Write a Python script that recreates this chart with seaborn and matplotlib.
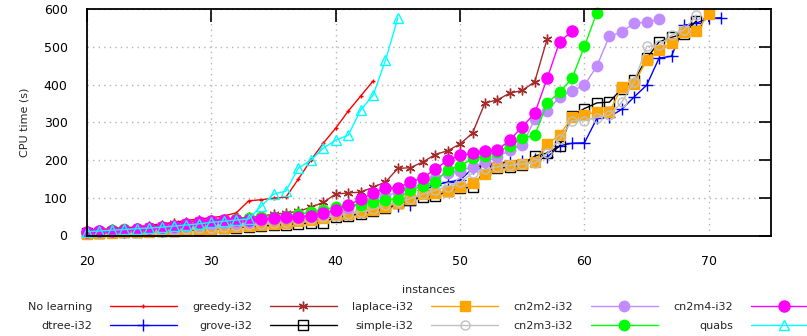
import numpy as np
import matplotlib
matplotlib.use('Agg')
import matplotlib.pyplot as plt
import seaborn as sns

# cactus data: sorted CPU times, first plotted instance is #20
FIRST_INSTANCE = 20

no_learning = [14, 16, 18, 20, 23, 27, 31, 35, 40, 44, 47, 52, 60, 92, 95, 99,
               102, 150, 200, 245, 285, 330, 370, 410]
dtree = [7, 8, 9, 10, 11, 12, 13, 14, 16, 18, 20, 22, 24, 27, 30, 33, 36, 40,
         44, 48, 52, 57, 62, 68, 76, 79, 82, 120, 133, 142, 147, 178, 187, 192,
         196, 199, 203, 208, 238, 245, 246, 311, 315, 335, 368, 399, 471, 476,
         558, 564, 577, 578]
greedy = [12, 14, 16, 18, 20, 24, 28, 33, 36, 40, 42, 44, 46, 48, 52, 56, 60,
          64, 75, 88, 110, 113, 115, 128, 142, 178, 180, 195, 215, 225, 243,
          272, 352, 360, 378, 385, 408, 522]
grove = [6, 7, 8, 9, 10, 11, 12, 13, 14, 15, 17, 19, 21, 23, 25, 27, 29, 31, 33,
         34, 50, 52, 58, 64, 73, 85, 94, 102, 104, 118, 126, 128, 173, 178, 182,
         186, 211, 219, 237, 318, 337, 352, 354, 390, 412, 470, 514, 526, 536,
         570]
laplace = [5, 6, 7, 8, 9, 10, 11, 13, 15, 16, 18, 20, 22, 25, 28, 31, 34, 38,
           42, 47, 54, 56, 62, 67, 76, 86, 97, 109, 112, 119, 129, 139, 162, 181,
           187, 191, 195, 243, 266, 315, 320, 328, 328, 393, 403, 465, 493, 511,
           539, 543, 587]
simple = [8, 9, 10, 11, 12, 13, 14, 15, 17, 19, 21, 23, 25, 28, 31, 34, 37, 40,
          44, 48, 53, 58, 63, 70, 80, 88, 98, 110, 120, 130, 142, 165, 176, 182,
          186, 190, 192, 218, 255, 305, 305, 313, 319, 354, 408, 502, 505, 532,
          545, 585]
cn2m2 = [10, 11, 12, 13, 15, 17, 19, 21, 24, 27, 30, 32, 34, 37, 40, 43, 46, 50,
         54, 58, 64, 72, 85, 95, 105, 115, 125, 138, 152, 165, 172, 182, 195,
         208, 227, 240, 308, 330, 368, 384, 399, 450, 529, 540, 564, 566, 574]
cn2m3 = [10, 12, 14, 16, 18, 20, 23, 26, 30, 34, 38, 42, 44, 46, 48, 50, 53, 56,
         62, 68, 76, 80, 82, 89, 95, 98, 120, 132, 142, 175, 184, 205, 210, 222,
         238, 258, 266, 351, 381, 417, 502, 592]
cn2m4 = [9, 11, 13, 15, 17, 19, 22, 25, 30, 35, 38, 40, 42, 42, 44, 46, 49, 49,
         53, 60, 68, 81, 96, 113, 126, 126, 142, 153, 176, 200, 213, 218, 224,
         227, 253, 289, 324, 417, 514, 543]
quabs = [10, 12, 14, 16, 18, 20, 22, 25, 28, 31, 35, 38, 41, 44, 78, 110, 118,
         179, 200, 232, 253, 266, 333, 372, 465, 578]

# (label, data, color, marker, size, filled)
SERIES = [
    ('No learning', no_learning, '#ff0000', '+', 2.5, True),
    ('dtree-i32', dtree, '#0000ff', '+', 8, True),
    ('greedy-i32', greedy, '#a52a2a', (6, 2, 0), 7, True),
    ('grove-i32', grove, '#000000', 's', 6.5, False),
    ('laplace-i32', laplace, '#ffa500', 's', 7, True),
    ('simple-i32', simple, '#c0c0c0', 'o', 6.5, False),
    ('cn2m2-i32', cn2m2, '#c08cff', 'o', 7.5, True),
    ('cn2m3-i32', cn2m3, '#00ff00', 'o', 7.5, True),
    ('cn2m4-i32', cn2m4, '#ff00ff', 'o', 8, True),
    ('quabs', quabs, '#00ffff', '^', 6.5, False),
]


def main():
    sns.set_style('white')
    plt.rcParams['font.family'] = ['DejaVu Sans']

    fig = plt.figure(figsize=(8.07, 3.36), dpi=100)
    ax = fig.add_axes([87 / 807, 1 - 235.5 / 336, 684 / 807, 226 / 336])

    for name, ys, color, marker, size, filled in SERIES:
        xs = np.arange(FIRST_INSTANCE, FIRST_INSTANCE + len(ys))
        sns.lineplot(x=xs, y=ys, ax=ax, color=color, linewidth=1,
                     marker=marker, markersize=size,
                     markeredgecolor=color,
                     markerfacecolor=color if filled else 'none',
                     markeredgewidth=1.0, label=name, clip_on=False,
                     estimator=None, sort=False)

    ax.set_xlim(20, 75)
    ax.set_ylim(0, 600)
    ax.set_xticks(range(20, 71, 10))
    ax.set_yticks(range(0, 601, 100))
    ax.grid(True, color='#b4b4b4', linestyle=(0, (1, 3)), linewidth=1)
    ax.tick_params(direction='in', length=9, width=1.2, top=True, right=True,
                   labelsize=9, colors='black')
    ax.tick_params(axis='x', pad=14)
    ax.tick_params(axis='y', pad=14)
    for sp in ax.spines.values():
        sp.set_visible(True)
        sp.set_color('black')
        sp.set_linewidth(1.3)

    ax.set_ylabel('CPU time (s)', fontsize=8, labelpad=10)
    ax.set_xlabel('instances', fontsize=8, labelpad=12)

    handles, labels = ax.get_legend_handles_labels()
    ax.get_legend().remove()
    fig.legend(handles, labels, ncol=5, loc='upper left',
               bbox_to_anchor=(28 / 807, 1 - 302 / 336), frameon=False,
               markerfirst=False, fontsize=8, handlelength=6,
               handletextpad=1.6, columnspacing=1.4, labelspacing=0.8,
               borderpad=0, borderaxespad=0)

    fig.savefig('out.png', dpi=100)


if __name__ == "__main__":
    main()
